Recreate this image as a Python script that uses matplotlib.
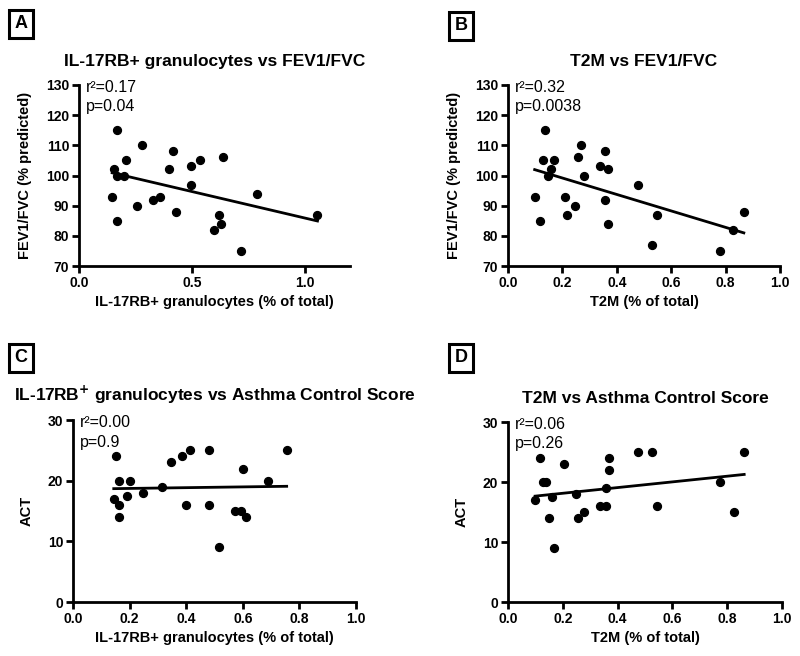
import numpy as np
import matplotlib
matplotlib.use("Agg")
import matplotlib.pyplot as plt

plt.rcParams['font.family'] = ['Liberation Sans', 'DejaVu Sans']

# Panel A: IL-17RB+ granulocytes vs FEV1/FVC
a_x = [0.169, 0.279, 0.418, 0.637, 0.209, 0.538, 0.497, 0.399, 0.157, 0.169,
       0.200, 0.497, 0.147, 0.357, 0.328, 0.788, 0.257, 0.428, 0.618, 1.056,
       0.169, 0.628, 0.597, 0.718]
a_y = [115, 110, 108, 106, 105, 105, 103, 102, 102, 100,
       100, 97, 93, 93, 92, 94, 90, 88, 87, 87,
       85, 84, 82, 75]

# Panel B: T2M vs FEV1/FVC
b_x = [0.137, 0.269, 0.357, 0.258, 0.128, 0.168, 0.337, 0.158, 0.368, 0.147,
       0.279, 0.479, 0.098, 0.209, 0.357, 0.248, 0.218, 0.547, 0.867, 0.118,
       0.368, 0.828, 0.528, 0.778]
b_y = [115, 110, 108, 106, 105, 105, 103, 102, 102, 100,
       100, 97, 93, 93, 92, 90, 87, 87, 88, 85,
       84, 82, 77, 75]

# Panel C: IL-17RB+ granulocytes vs ACT
c_x = [0.153, 0.412, 0.479, 0.755, 0.384, 0.345, 0.602, 0.164, 0.201, 0.689,
       0.316, 0.249, 0.192, 0.144, 0.164, 0.401, 0.479, 0.573, 0.593, 0.164,
       0.612, 0.516]
c_y = [24, 25, 25, 25, 24, 23, 22, 20, 20, 20,
       19, 18, 17.5, 17, 16, 16, 16, 15, 15, 14,
       14, 9]

# Panel D: T2M vs ACT
d_x = [0.118, 0.206, 0.367, 0.476, 0.524, 0.862, 0.367, 0.128, 0.140, 0.772,
       0.357, 0.248, 0.099, 0.159, 0.337, 0.357, 0.545, 0.277, 0.823, 0.148,
       0.257, 0.168]
d_y = [24, 23, 24, 25, 25, 25, 22, 20, 20, 20,
       19, 18, 17, 17.5, 16, 16, 16, 15, 15, 14,
       14, 9]

W, H = 800, 656
fig = plt.figure(figsize=(W / 100, H / 100), dpi=100)


def px_axes(left, right, top, bottom):
    return fig.add_axes([left / W, 1 - bottom / H, (right - left) / W, (bottom - top) / H])


def panel(ax, x, y, xlim, xticks, ylim, yticks, xlabel, ylabel, title, stats):
    ax.scatter(x, y, s=32, color='black', zorder=3, clip_on=False)
    k, b = np.polyfit(x, y, 1)
    xs = np.array([min(x), max(x)])
    ax.plot(xs, k * xs + b, color='black', lw=2)
    ax.set_xlim(*xlim)
    ax.set_ylim(*ylim)
    ax.set_xticks(xticks)
    ax.set_yticks(yticks)
    ax.set_xticklabels(['%.1f' % t for t in xticks], fontweight='bold', fontsize=10)
    ax.set_yticklabels([str(t) for t in yticks], fontweight='bold', fontsize=10)
    for s in ['top', 'right']:
        ax.spines[s].set_visible(False)
    for s in ['left', 'bottom']:
        ax.spines[s].set_linewidth(2)
    ax.tick_params(width=2, length=5, pad=2)
    ax.set_xlabel(xlabel, fontweight='bold', fontsize=10.5, labelpad=4)
    ax.set_ylabel(ylabel, fontweight='bold', fontsize=10.5, labelpad=10)
    ax.set_title(title, fontweight='bold', fontsize=12.5, pad=14)
    ax.text(0.025, 1.03, stats[0], transform=ax.transAxes, fontsize=11.5, va='top')
    ax.text(0.025, 0.92, stats[1], transform=ax.transAxes, fontsize=11.5, va='top')


axA = px_axes(79, 350, 85, 266)
panel(axA, a_x, a_y, (0, 1.2), [0.0, 0.5, 1.0], (70, 130), [70, 80, 90, 100, 110, 120, 130],
      'IL-17RB+ granulocytes (% of total)', 'FEV1/FVC (% predicted)',
      'IL-17RB+ granulocytes vs FEV1/FVC', ('r²=0.17', 'p=0.04'))

axB = px_axes(508, 780, 85, 266)
panel(axB, b_x, b_y, (0, 1.0), [0.0, 0.2, 0.4, 0.6, 0.8, 1.0], (70, 130), [70, 80, 90, 100, 110, 120, 130],
      'T2M (% of total)', 'FEV1/FVC (% predicted)',
      'T2M vs FEV1/FVC', ('r²=0.32', 'p=0.0038'))

axC = px_axes(73, 356, 420, 602)
panel(axC, c_x, c_y, (0, 1.0), [0.0, 0.2, 0.4, 0.6, 0.8, 1.0], (0, 30), [0, 10, 20, 30],
      'IL-17RB+ granulocytes (% of total)', 'ACT',
      'IL-17RB$^{\\mathbf{+}}$ granulocytes vs Asthma Control Score', ('r²=0.00', 'p=0.9'))

axD = px_axes(508, 782, 422, 602)
panel(axD, d_x, d_y, (0, 1.0), [0.0, 0.2, 0.4, 0.6, 0.8, 1.0], (0, 30), [0, 10, 20, 30],
      'T2M (% of total)', 'ACT',
      'T2M vs Asthma Control Score', ('r²=0.06', 'p=0.26'))

# panel letters in boxes
for lbl, x, y in [('A', 21, 24), ('B', 461, 26), ('C', 21, 358), ('D', 461, 358)]:
    fig.text(x / W, 1 - y / H, lbl, fontsize=13, fontweight='bold', ha='center', va='center',
             bbox=dict(boxstyle='square,pad=0.3', fc='white', ec='black', lw=2.2))

fig.savefig('out.png', dpi=100)
